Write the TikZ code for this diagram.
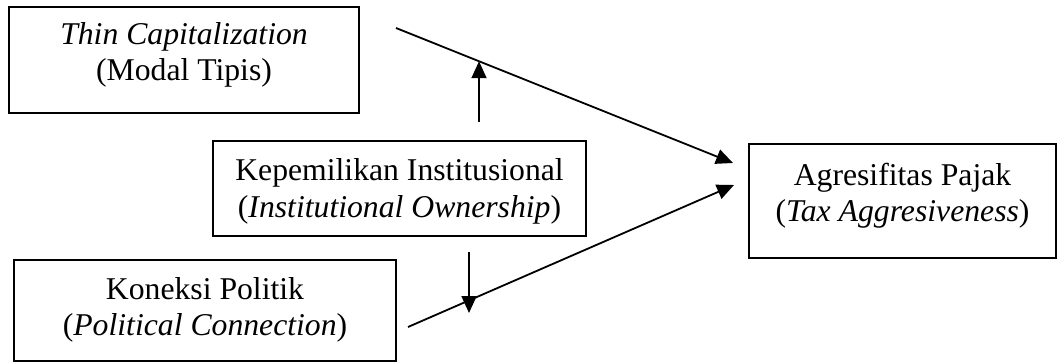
\documentclass[tikz,border=0pt]{standalone}
\usepackage{fontspec}
\setmainfont{Liberation Serif}
\usetikzlibrary{arrows.meta,calc}
\begin{document}
\begin{tikzpicture}[x=0.5pt,y=-0.5pt,
  box/.style={draw,line width=1pt,inner sep=0pt},
  lbl/.style={align=center,inner sep=0pt,anchor=base,font=\fontsize{15.85}{18}\selectfont},
  conn/.style={line width=0.9pt,-{Triangle[length=8.5pt,width=7.5pt]}}]
\useasboundingbox (0,0) rectangle (1058,363);
% boxes
\node[box,minimum width=175pt,minimum height=53pt] (tc) at (184,60) {};
\node[box,minimum width=186.5pt,minimum height=47.5pt] (io) at (399.5,188.5) {};
\node[box,minimum width=191pt,minimum height=50.5pt] (pc) at (205,310.5) {};
\node[box,minimum width=153.5pt,minimum height=57pt] (ta) at (902.5,201) {};
% labels (anchor = baseline of the last line)
\node[lbl] (tct) at ($(tc.north)+(0,75)$) {\textit{Thin Capitalization}\\(Modal Tipis)};
\node[lbl] (iot) at ($(io.north)+(0,77)$) {Kepemilikan Institusional\\(\textit{Institutional Ownership})};
\node[lbl] (pct) at ($(pc.north)+(0,76)$) {Koneksi Politik\\(\textit{Political Connection})};
\node[lbl] (tat) at ($(ta.north)+(0,78)$) {Agresifitas Pajak\\(\textit{Tax Aggresiveness})};
% connector points
\coordinate (s1) at (396,28);
\coordinate (e1) at (733,163);
\coordinate (s2) at (408,327);
\coordinate (e2) at (734,185);
\coordinate (m1) at ($(s1)!0.2463!(e1)$);
\coordinate (u1) at (479,122);
\coordinate (d1) at (469,252);
\coordinate (d2) at (469,313);
% connectors
\draw[conn] (s1) -- (e1);
\draw[conn] (s2) -- (e2);
\draw[conn] (u1) -- (m1);
\draw[conn] (d1) -- (d2);
\end{tikzpicture}
\end{document}
